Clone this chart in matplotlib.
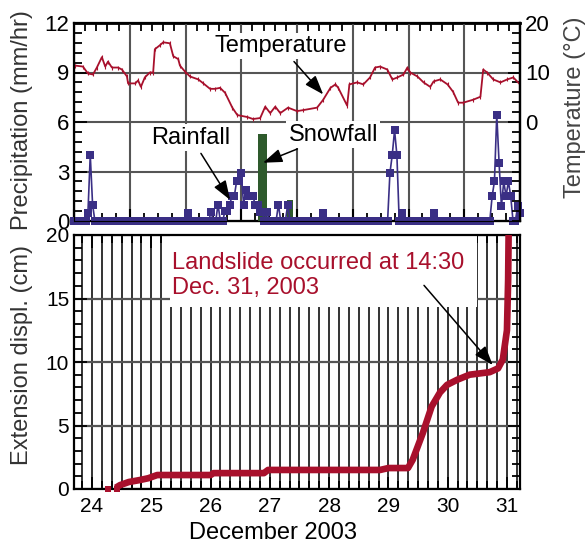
import numpy as np
import matplotlib.pyplot as plt
from matplotlib.ticker import MultipleLocator
from matplotlib.patches import Rectangle

plt.rcParams['font.family'] = ['Liberation Sans', 'DejaVu Sans']

# temperature (deg C) vs day of December 2003
temp_day = [24.02, 24.16, 24.25, 24.34, 24.41, 24.50, 24.56, 24.61, 24.68, 24.79, 24.86, 24.95,
            24.97, 25.10, 25.15, 25.20, 25.27, 25.36, 25.42, 25.45, 25.54, 25.60, 25.72, 25.78,
            25.87, 25.90, 25.99, 26.08, 26.23, 26.32, 26.44, 26.53, 26.62, 26.71, 26.84, 26.93,
            27.11, 27.21, 27.34, 27.43, 27.52, 27.61, 27.70, 27.84, 28.00, 28.11, 28.36, 28.47,
            28.60, 28.69, 28.74, 28.90, 28.94, 29.08, 29.19, 29.31, 29.40, 29.49, 29.62, 29.71,
            29.80, 29.91, 29.98, 30.03, 30.16, 30.27, 30.39, 30.45, 30.57, 30.70, 30.80, 30.89,
            30.98, 31.16, 31.29, 31.34, 31.41, 31.52, 31.65, 31.77, 31.88, 32.00]
temp_c = [11.4, 11.2, 9.8, 9.6, 11.0, 13.1, 11.2, 12.2, 11.0, 11.0, 10.6, 9.2,
          7.8, 7.8, 8.4, 7.1, 9.0, 10.0, 10.0, 14.7, 15.5, 16.1, 15.9, 13.3,
          12.7, 11.4, 10.2, 9.2, 8.6, 7.8, 6.7, 6.7, 6.9, 5.9, 2.9, 1.4,
          1.0, 0.6, 0.8, 3.1, 1.8, 3.1, 1.8, 2.9, 2.2, 2.4, 2.9, 4.5,
          6.9, 7.6, 6.9, 3.3, 7.6, 8.0, 7.6, 9.0, 11.0, 11.2, 10.6, 8.6,
          9.0, 9.6, 11.0, 10.0, 9.2, 8.0, 7.1, 8.2, 8.6, 7.6, 6.1, 3.9,
          3.9, 4.5, 5.1, 10.6, 10.0, 8.6, 8.0, 8.6, 9.0, 7.6]

# hourly rainfall (mm/hr), hours counted from Dec 24 00:00; all other hours are 0
rain_hours = [6, 7, 8, 49, 59, 62, 65, 66, 67, 68, 69, 70, 71, 72, 73, 74, 75, 76, 77, 78, 79,
              80, 81, 83, 88, 92, 107, 136, 137, 138, 139, 141, 155,
              180, 181, 182, 183, 184, 185, 186, 187, 188, 191, 192]
rain_vals = [0.5, 4.0, 1.0, 0.5, 0.55, 1.0, 0.6, 0.6, 1.0, 1.5, 1.5, 2.4, 2.4, 2.9, 1.0, 1.9, 1.5,
             1.5, 1.5, 1.0, 1.0, 0.55, 0.55, 0.55, 1.0, 1.0, 0.5, 2.9, 4.0, 5.5, 4.0, 0.5, 0.5,
             1.5, 2.4, 6.45, 3.5, 0.9, 2.4, 1.5, 2.4, 1.5, 0.9, 0.5]

# snowfall bars
snow_day = [27.38, 27.87]
snow_val = [5.3, 1.3]
snow_w = [0.16, 0.11]

# extension displacement (cm)
disp_day = [24.40, 24.47, 24.62, 24.80, 24.95, 25.10, 26.00, 26.05, 26.90, 26.97, 28.86, 29.00,
            29.33, 29.41, 29.58, 29.73, 29.87, 29.99, 30.16, 30.37, 30.71, 30.85, 30.93, 31.00,
            31.02, 31.03]
disp_cm = [0.1, 0.3, 0.55, 0.7, 0.85, 1.1, 1.1, 1.25, 1.25, 1.5, 1.5, 1.65,
           1.65, 2.3, 4.4, 6.5, 7.6, 8.2, 8.6, 9.0, 9.2, 9.5, 10.2, 12.5,
           16.5, 21.0]
first_day = [24.27, 24.42]
first_cm = [0.0, 0.0]

red = '#A8102C'
blue = '#3A2F85'
green = '#2E5A2C'
grid_gray = '#555555'

fig = plt.figure(figsize=(5.87, 5.45), dpi=100)

# ---- top panel: precipitation + temperature
ax1 = fig.add_axes([74/587, 1 - 221/545, 446/587, 198/545])
ax1.set_xlim(24, 32)
ax1.set_ylim(0, 12)

hours = np.arange(193)
rain = np.zeros(193)
rain[rain_hours] = rain_vals
ax1.plot(24 + hours/24, rain, color=blue, lw=1.2, marker='s', ms=5.4, mew=0, clip_on=False, zorder=4)
ax1.bar(snow_day, snow_val, width=snow_w, color=green, zorder=3)

ax1.xaxis.set_major_locator(MultipleLocator(1))
ax1.xaxis.set_minor_locator(MultipleLocator(0.25))
ax1.yaxis.set_major_locator(MultipleLocator(3))
ax1.yaxis.set_minor_locator(MultipleLocator(0.6))
ax1.grid(True, which='major', color=grid_gray, lw=1.5)
ax1.set_axisbelow(True)
ax1.tick_params(axis='x', which='both', direction='in', labelbottom=False, top=False)
ax1.tick_params(axis='x', which='major', length=9, width=1.5)
ax1.tick_params(axis='x', which='minor', length=6, width=1.3)
ax1.tick_params(axis='y', which='both', direction='in', labelsize=16, width=1.3)
ax1.tick_params(axis='y', which='major', length=9)
ax1.tick_params(axis='y', which='minor', length=6)
for s in ax1.spines.values():
    s.set_linewidth(1.6)

topx = ax1.secondary_xaxis('top')
topx.xaxis.set_major_locator(MultipleLocator(1))
topx.xaxis.set_minor_locator(MultipleLocator(0.2))
topx.tick_params(which='both', direction='in', labeltop=False, width=1.3)
topx.tick_params(which='major', length=9)
topx.tick_params(which='minor', length=6)
topx.spines['top'].set_linewidth(2)

ax1t = ax1.twinx()
ax1t.set_ylim(-20, 20)
ax1t.plot(temp_day, temp_c, color=red, lw=1.3, marker='|', ms=3, mew=0.8)
ax1t.set_yticks([0, 10, 20])
ax1t.yaxis.set_minor_locator(MultipleLocator(2))
ax1t.tick_params(which='both', direction='in', labelsize=16, width=1.3)
ax1t.tick_params(which='major', length=9)
ax1t.tick_params(which='minor', length=6)
ax1t.spines['right'].set_linewidth(1.6)

box = dict(boxstyle='square,pad=0.1', fc='white', ec='none')
arrow = dict(arrowstyle='-|>,head_length=0.9,head_width=0.32', color='black', lw=1.1,
             mutation_scale=13, shrinkA=2, shrinkB=0)
ax1.annotate('Temperature', xy=(28.47, 7.67), xytext=(27.70, 10.6), fontsize=17,
             ha='center', va='center', bbox=box, arrowprops=arrow, zorder=6)
ax1.annotate('Rainfall', xy=(26.80, 1.28), xytext=(26.10, 5.05), fontsize=17,
             ha='center', va='center', bbox=box, arrowprops=arrow, zorder=6)
ax1.annotate('Snowfall', xy=(27.39, 3.53), xytext=(28.65, 5.24), fontsize=17,
             ha='center', va='center', bbox=box, arrowprops=arrow, zorder=6)

# ---- bottom panel: extension displacement
ax2 = fig.add_axes([74/587, 1 - 489/545, 446/587, 254/545])
ax2.set_xlim(23.696, 31.22)
ax2.set_ylim(0, 20)
ax2.plot(disp_day, disp_cm, color=red, lw=4.8, solid_capstyle='butt', zorder=4)
ax2.plot(first_day, first_cm, color=red, ls='none', marker='s', ms=5, mew=0, clip_on=False, zorder=4)

ax2.xaxis.set_major_locator(MultipleLocator(1))
ax2.xaxis.set_minor_locator(MultipleLocator(1/6))
ax2.yaxis.set_major_locator(MultipleLocator(5))
ax2.yaxis.set_minor_locator(MultipleLocator(1))
ax2.grid(True, axis='x', which='both', color='#111111', lw=1.2)
ax2.grid(True, axis='y', which='major', color=grid_gray, lw=1.6)
ax2.set_axisbelow(True)
ax2.tick_params(which='both', direction='in', top=True, right=True, width=1.3)
ax2.tick_params(which='major', length=9)
ax2.tick_params(which='minor', length=6)
ax2.tick_params(axis='y', labelsize=15)
ax2.tick_params(axis='x', labelsize=15, pad=6)
for s in ax2.spines.values():
    s.set_linewidth(1.6)

ax2.add_patch(Rectangle((0.215, 0.717), 0.689, 0.29, transform=ax2.transAxes,
                        fc='white', ec='none', zorder=2))
ax2.text(25.35, 16.8, 'Landslide occurred at 14:30\nDec. 31, 2003', color=red, fontsize=17,
         ha='left', va='center', linespacing=1.15, zorder=5)
ax2.annotate('', xy=(30.76, 9.76), xytext=(29.57, 16.2), arrowprops=arrow, zorder=6)

ax2.set_xlabel('December 2003', fontsize=17, labelpad=4)
ax2.xaxis.set_label_coords(0.446, -0.13)

fig.text(22/587, 1 - 120/545, 'Precipitation (mm/hr)', rotation=90, fontsize=17,
         ha='center', va='center', color='#333333')
fig.text(22/587, 1 - 355/545, 'Extension displ. (cm)', rotation=90, fontsize=17,
         ha='center', va='center', color='#333333')
fig.text(575/587, 1 - 107/545, 'Temperature (°C)', rotation=90, fontsize=17,
         ha='center', va='center', color='#444444')

fig.savefig('out.png', dpi=100)
